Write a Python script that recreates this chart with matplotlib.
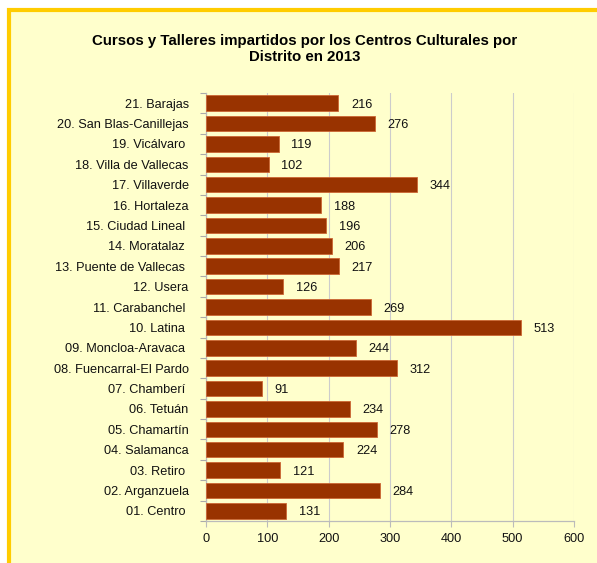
import matplotlib
matplotlib.use("Agg")
import matplotlib.pyplot as plt
from matplotlib.patches import Rectangle

categories = ["01. Centro ", "02. Arganzuela", "03. Retiro ", "04. Salamanca", "05. Chamartín",
              "06. Tetuán", "07. Chamberí ", "08. Fuencarral-El Pardo", "09. Moncloa-Aravaca ",
              "10. Latina ", "11. Carabanchel ", "12. Usera", "13. Puente de Vallecas ",
              "14. Moratalaz ", "15. Ciudad Lineal ", "16. Hortaleza", "17. Villaverde",
              "18. Villa de Vallecas", "19. Vicálvaro ", "20. San Blas-Canillejas", "21. Barajas"]
values = [131, 284, 121, 224, 278, 234, 91, 312, 244, 513, 269, 126, 217, 206, 196, 188, 344,
          102, 119, 276, 216]
xticks = [0, 100, 200, 300, 400, 500, 600]
title = "Cursos y Talleres impartidos por los Centros Culturales por\nDistrito en 2013"

plt.rcParams['font.family'] = ['Liberation Sans', 'DejaVu Sans']

W, H = 597, 563
fig = plt.figure(figsize=(W / 100, H / 100), dpi=100)
fig.patch.set_facecolor('white')

# background panel with yellow border (top and left visible)
bg = Rectangle((9 / W, -0.1), 1.2, 1 - 10 / H + 0.1, transform=fig.transFigure,
               facecolor='#FFFFCC', edgecolor='#FFCC00', linewidth=3.0, zorder=-5)
fig.patches.append(bg)

ax = fig.add_axes([206 / W, 1 - 521 / H, (574 - 206) / W, (521 - 93) / H])
ax.set_zorder(2)
ax.set_facecolor('none')

n = len(categories)
ypos = list(range(n))
ax.barh(ypos, values, height=0.76, color='#993300', edgecolor='#CC6633', linewidth=0.6, zorder=3)
for y, v in zip(ypos, values):
    ax.annotate(str(v), (v, y), xytext=(9, 0), textcoords='offset points',
                va='center_baseline', ha='left', fontsize=9.2, color='#111111')

ax.set_xlim(0, 600)
ax.set_ylim(-0.5, n - 0.5)
ax.set_xticks(xticks)
ax.set_xticklabels([str(t) for t in xticks], fontsize=9.2, color='#111111')
ax.set_yticks(ypos)
ax.set_yticklabels(categories, fontsize=9.2, color='#111111', va='center_baseline')
ax.tick_params(axis='y', length=0, pad=12.5)
ax.set_yticks([i - 0.5 for i in range(n + 1)], minor=True)
ax.tick_params(axis='y', which='minor', length=4, color='#AAAAAA', width=0.8)
ax.tick_params(axis='x', length=4, color='#BBBBBB', width=0.8, pad=4.5)
ax.xaxis.grid(True, color='#CCCCCC', linewidth=0.8, zorder=0)
ax.set_axisbelow(True)
for s in ['top', 'right']:
    ax.spines[s].set_visible(False)
for s in ['left', 'bottom']:
    ax.spines[s].set_color('#BBBBBB')
    ax.spines[s].set_linewidth(0.9)

t = fig.text(305 / W, 1 - 49 / H, title, ha='center', va='center', fontsize=10.8,
             fontweight='bold', linespacing=1.1, color='#000000')
t.set_zorder(3)

fig.savefig('out.png', dpi=100, facecolor=fig.get_facecolor())
